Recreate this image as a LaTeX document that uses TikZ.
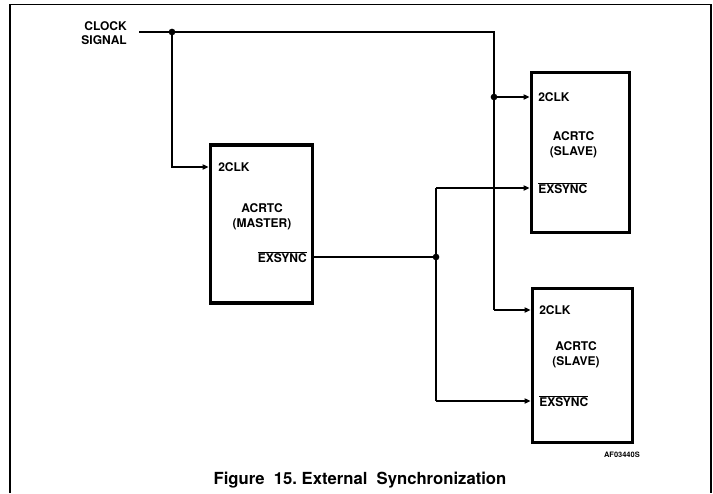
\documentclass[tikz,border=0pt]{standalone}
\usepackage{fontspec}
\setmainfont{TeX Gyre Heros}
\usetikzlibrary{arrows.meta, positioning, calc}
\tikzset{
  chip/.style   = {rectangle, draw=black, line width=2.3pt, minimum width=76pt,
                   minimum height=118pt, inner sep=0pt},
  pin/.style    = {font=\fontsize{9}{10}\selectfont\bfseries, inner sep=0pt},
  chiptitle/.style = {align=center, font=\fontsize{9}{11.5}\selectfont\bfseries, inner sep=0pt},
  wire/.style   = {line width=1.5pt, draw=black},
  sig/.style    = {wire, -{Triangle[length=4.5pt, width=3.8pt]}},
  jn/.style     = {circle, fill=black, inner sep=0pt, minimum size=5pt},
}
\newcommand{\barsig}[1]{$\overline{\hbox{#1}}$}
\begin{document}
\begin{tikzpicture}[x=0.75pt, y=-0.75pt]
  \useasboundingbox (0,0) rectangle (713,493);
  % frame
  \draw[line width=0.9pt] (10,493) -- (10,4.5) -- (711,4.5) -- (711,493);

  % chips
  \node[chip, minimum width=77pt, minimum height=118.5pt] (master) at (261.5,224) {};
  \node[chip, minimum width=74pt, minimum height=120.5pt] (slaveA) at (580.5,152.5) {};
  \node[chip, minimum width=75.5pt, minimum height=116pt] (slaveB) at (582.5,365.5) {};

  \node[chiptitle] (mtitle) at (262,217) {ACRTC\\(MASTER)};
  \node[chiptitle] (atitle) at (573.5,145) {ACRTC\\(SLAVE)};
  \node[chiptitle] (btitle) at (576,355) {ACRTC\\(SLAVE)};

  % pins
  \node[pin, anchor=west] (mclk) at (218,167) {2CLK};
  \node[pin, anchor=east] (msync) at (307,257) {\barsig{EXSYNC}};
  \node[pin, anchor=west] (aclk) at (538,97) {2CLK};
  \node[pin, anchor=west] (async) at (538,188) {\barsig{EXSYNC}};
  \node[pin, anchor=west] (bclk) at (539,310) {2CLK};
  \node[pin, anchor=west] (bsync) at (539,401) {\barsig{EXSYNC}};

  % clock input
  \node[pin, align=right, anchor=east, font=\fontsize{9}{10.5}\selectfont\bfseries] (clk) at (127,33) {CLOCK\\SIGNAL};
  \coordinate (clkin) at (139,32);
  \node[jn] (jclk) at (172,32) {};
  \coordinate (ctop) at (494,32);
  \node[jn] (jA) at (494,97) {};
  \node[jn] (jsync) at (436,257) {};
  \coordinate (stop) at (436,188);
  \coordinate (sbot) at (436,401);

  % clock wiring
  \draw[wire] (clkin) -- (jclk.center) -- (ctop) -- (ctop |- bclk);
  \draw[sig] (jclk.center) |- (master.west |- mclk);
  \draw[sig] (jA.center) -- (slaveA.west |- aclk);
  \draw[sig] (ctop |- bclk) -- (slaveB.west |- bclk);

  % sync wiring
  \draw[wire] (master.east |- msync) -- (jsync.center);
  \draw[wire] (stop) -- (sbot);
  \draw[sig] (stop) -- (slaveA.west |- async);
  \draw[sig] (sbot) -- (slaveB.west |- bsync);

  \node[font=\fontsize{5.6}{6}\selectfont\bfseries, anchor=east, inner sep=0pt] (ref) at (640,455) {AF03440S};
  \node[font=\fontsize{12.5}{14}\selectfont\bfseries, inner sep=0pt] (cap) at (360,480)
    {Figure\ \ 15.\ External\ \ Synchronization};
\end{tikzpicture}
\end{document}
